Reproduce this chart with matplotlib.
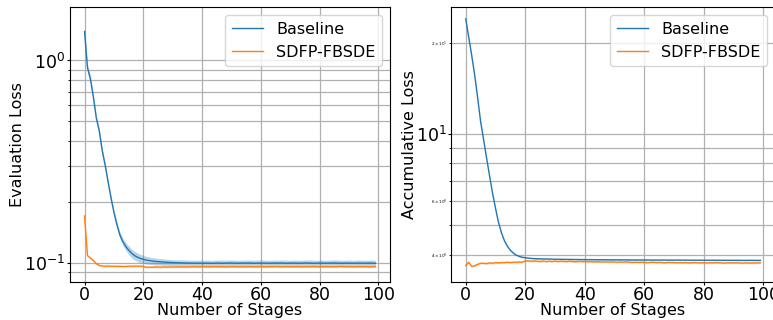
import matplotlib
matplotlib.use("Agg")
import matplotlib.pyplot as plt
import numpy as np

stages = list(range(100))

eval_baseline = [
    1.39, 0.92, 0.81, 0.66, 0.52, 0.45, 0.36, 0.305, 0.252, 0.21,
    0.178, 0.155, 0.138, 0.128, 0.121, 0.116, 0.112, 0.109, 0.107, 0.1055,
    0.1045, 0.1035, 0.103, 0.1025, 0.102, 0.1018, 0.1015, 0.1012, 0.101, 0.1008,
    0.1006, 0.1005, 0.1004, 0.1003, 0.1002, 0.1001, 0.1000, 0.1000, 0.0999, 0.1000,
    0.0999, 0.0999, 0.1000, 0.0998, 0.0999, 0.1001, 0.1000, 0.0999, 0.1000, 0.1002,
    0.1001, 0.1000, 0.0999, 0.1000, 0.1001, 0.1000, 0.1002, 0.1000, 0.0999, 0.1001,
    0.1000, 0.1001, 0.1000, 0.0999, 0.1000, 0.1001, 0.1000, 0.1002, 0.1000, 0.0999,
    0.1000, 0.1001, 0.1000, 0.0999, 0.1000, 0.1002, 0.1001, 0.1000, 0.0999, 0.1000,
    0.1001, 0.1000, 0.0999, 0.1000, 0.1001, 0.1002, 0.1000, 0.0999, 0.1000, 0.1001,
    0.1000, 0.0999, 0.1000, 0.1001, 0.1000, 0.0999, 0.1000, 0.1001, 0.1000, 0.0998,
]

eval_baseline_spread = [
    0.05, 0.04, 0.04, 0.035, 0.03, 0.03, 0.028, 0.028, 0.03, 0.03,
    0.032, 0.035, 0.038, 0.04, 0.045, 0.048, 0.05, 0.05, 0.05, 0.048,
    0.046, 0.044, 0.042, 0.04, 0.04, 0.038, 0.038, 0.037, 0.036, 0.036,
    0.035, 0.036, 0.034, 0.035, 0.036, 0.035, 0.034, 0.035, 0.036, 0.035,
    0.034, 0.035, 0.036, 0.035, 0.034, 0.035, 0.036, 0.037, 0.035, 0.034,
    0.035, 0.036, 0.035, 0.034, 0.035, 0.036, 0.035, 0.034, 0.035, 0.036,
    0.037, 0.035, 0.034, 0.035, 0.036, 0.035, 0.034, 0.035, 0.036, 0.035,
    0.034, 0.035, 0.036, 0.035, 0.034, 0.035, 0.036, 0.037, 0.035, 0.034,
    0.035, 0.036, 0.035, 0.034, 0.035, 0.036, 0.038, 0.035, 0.034, 0.035,
    0.036, 0.035, 0.034, 0.035, 0.036, 0.035, 0.034, 0.035, 0.036, 0.035,
]

eval_sdfp = [
    0.171, 0.109, 0.106, 0.103, 0.0995, 0.0975, 0.0968, 0.0966, 0.0968, 0.0965,
    0.0966, 0.0964, 0.0965, 0.0963, 0.0964, 0.0966, 0.0965, 0.0967, 0.0966, 0.0967,
    0.0964, 0.0955, 0.0956, 0.0955, 0.0958, 0.0957, 0.0955, 0.0958, 0.0956, 0.0957,
    0.0958, 0.0957, 0.0959, 0.0958, 0.0957, 0.0959, 0.0958, 0.0960, 0.0959, 0.0958,
    0.0959, 0.0960, 0.0958, 0.0959, 0.0961, 0.0960, 0.0959, 0.0960, 0.0958, 0.0959,
    0.0960, 0.0961, 0.0959, 0.0958, 0.0960, 0.0959, 0.0961, 0.0960, 0.0959, 0.0960,
    0.0961, 0.0960, 0.0959, 0.0961, 0.0960, 0.0962, 0.0960, 0.0959, 0.0960, 0.0961,
    0.0960, 0.0959, 0.0961, 0.0960, 0.0959, 0.0960, 0.0961, 0.0960, 0.0962, 0.0960,
    0.0959, 0.0960, 0.0961, 0.0960, 0.0959, 0.0961, 0.0960, 0.0963, 0.0961, 0.0960,
    0.0961, 0.0960, 0.0959, 0.0961, 0.0960, 0.0961, 0.0960, 0.0959, 0.0961, 0.0960,
]
eval_sdfp_spread = 0.008

acc_baseline = [
    24.0, 20.9, 18.2, 15.7, 13.2, 11.0, 9.6, 8.35, 7.3, 6.4,
    5.7, 5.12, 4.73, 4.45, 4.27, 4.14, 4.05, 3.99, 3.95, 3.925,
    3.91, 3.90, 3.89, 3.885, 3.88, 3.878, 3.876, 3.874, 3.872, 3.870,
    3.868, 3.866, 3.865, 3.864, 3.862, 3.861, 3.860, 3.859, 3.858, 3.857,
    3.856, 3.855, 3.855, 3.854, 3.853, 3.852, 3.852, 3.851, 3.850, 3.850,
    3.849, 3.849, 3.848, 3.848, 3.847, 3.847, 3.846, 3.846, 3.845, 3.845,
    3.845, 3.844, 3.844, 3.843, 3.843, 3.843, 3.842, 3.842, 3.842, 3.841,
    3.841, 3.841, 3.840, 3.840, 3.840, 3.839, 3.839, 3.839, 3.838, 3.838,
    3.838, 3.838, 3.837, 3.837, 3.837, 3.836, 3.836, 3.836, 3.836, 3.835,
    3.835, 3.835, 3.835, 3.834, 3.834, 3.834, 3.834, 3.833, 3.833, 3.833,
]
acc_baseline_spread = 0.003

acc_sdfp = [
    3.69, 3.78, 3.66, 3.68, 3.72, 3.75, 3.75, 3.74, 3.76, 3.75,
    3.77, 3.76, 3.77, 3.77, 3.78, 3.77, 3.78, 3.78, 3.785, 3.78,
    3.82, 3.82, 3.81, 3.815, 3.81, 3.80, 3.815, 3.80, 3.81, 3.80,
    3.815, 3.80, 3.81, 3.805, 3.80, 3.81, 3.80, 3.795, 3.805, 3.80,
    3.80, 3.795, 3.80, 3.79, 3.795, 3.79, 3.785, 3.79, 3.785, 3.79,
    3.785, 3.78, 3.785, 3.78, 3.79, 3.78, 3.775, 3.78, 3.775, 3.78,
    3.775, 3.77, 3.775, 3.78, 3.77, 3.775, 3.77, 3.765, 3.775, 3.77,
    3.77, 3.765, 3.77, 3.765, 3.77, 3.76, 3.765, 3.77, 3.765, 3.76,
    3.765, 3.76, 3.765, 3.76, 3.77, 3.765, 3.76, 3.755, 3.765, 3.76,
    3.76, 3.765, 3.76, 3.755, 3.76, 3.76, 3.755, 3.76, 3.76, 3.76,
]
acc_sdfp_spread = 0.006

series_labels = ["Baseline", "SDFP-FBSDE"]
xticks = [0, 20, 40, 60, 80, 100]

plt.rcParams["font.family"] = ["DejaVu Sans"]

fig = plt.figure(figsize=(7.73, 3.2), dpi=100)
W, H = 773.0, 320.0
AX_BOTTOM, AX_H = 1 - 281.7 / H, 274.4 / H
ax1 = fig.add_axes([70 / W, AX_BOTTOM, 320 / W, AX_H])
ax2 = fig.add_axes([451 / W, AX_BOTTOM, 324 / W, AX_H])

x = np.array(stages)
c_blue, c_orange = "tab:blue", "tab:orange"


def draw(ax, base, base_sp, sdfp, sdfp_sp, ylabel, ylim, ylab_x):
    b = np.array(base)
    s = np.array(sdfp)
    bs = np.array(base_sp) if np.ndim(base_sp) else base_sp
    ss = np.array(sdfp_sp) if np.ndim(sdfp_sp) else sdfp_sp
    ax.plot(x, b, color=c_blue, lw=1.0, label=series_labels[0])
    ax.fill_between(x, b * (1 - bs), b * (1 + bs), color=c_blue, alpha=0.3, lw=0)
    ax.plot(x, s, color=c_orange, lw=1.0, label=series_labels[1])
    ax.fill_between(x, s * (1 - ss), s * (1 + ss), color=c_orange, alpha=0.3, lw=0)
    ax.set_yscale("log")
    ax.set_ylim(*ylim)
    ax.set_xticks(xticks)
    ax.grid(True, which="both", color="#b0b0b0", lw=0.9)
    ax.set_axisbelow(True)
    ax.tick_params(axis="both", which="major", labelsize=12.5, length=2.5, pad=0.8)
    ax.tick_params(axis="y", which="minor", labelsize=3, length=1.5, pad=0.8)
    ax.set_xlabel("Number of Stages", fontsize=11.5)
    ax.set_ylabel(ylabel, fontsize=11.5)
    ax.xaxis.set_label_coords(0.5, -0.079)
    ax.yaxis.set_label_coords(ylab_x, 0.5)
    ax.legend(loc="upper right", fontsize=11.5)


draw(ax1, eval_baseline, eval_baseline_spread, eval_sdfp, eval_sdfp_spread,
     "Evaluation Loss", (0.081, 1.83), -0.14)
draw(ax2, acc_baseline, acc_baseline_spread, acc_sdfp, acc_sdfp_spread,
     "Accumulative Loss", (3.26, 26.2), -0.105)

fig.savefig("out.png", dpi=100)
